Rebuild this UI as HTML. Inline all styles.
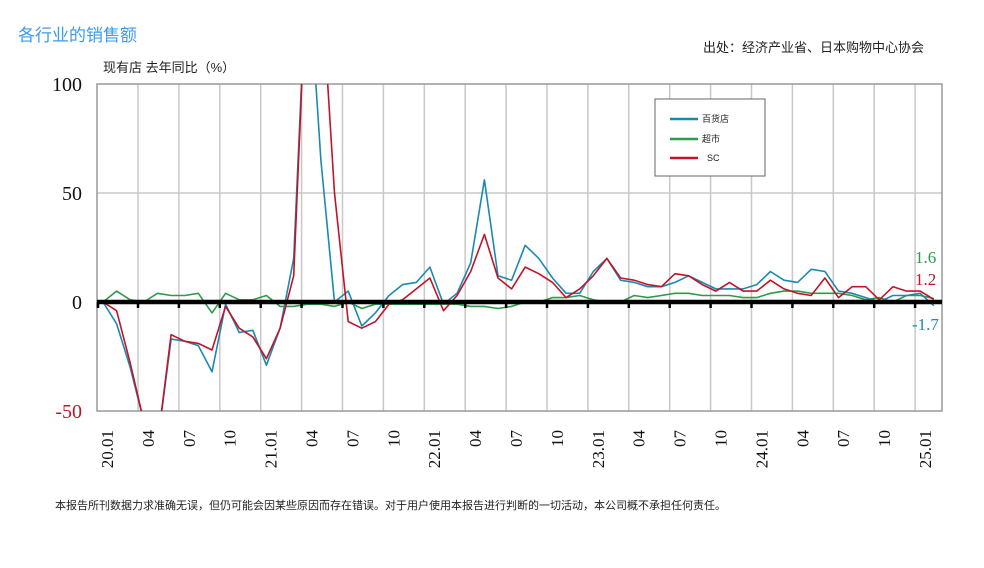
<!DOCTYPE html>
<html><head><meta charset="utf-8"><style>
body{margin:0;background:#fff;width:984px;height:568px;overflow:hidden;position:relative;font-family:"Liberation Sans","Noto Sans CJK SC",sans-serif}
.t{position:absolute;white-space:nowrap}
</style></head><body>
<div class="t" style="left:18px;top:21px;font-size:17px;color:#3a9af0">各行业的销售额</div>
<div class="t" style="left:703px;top:37px;font-size:13px;color:#222">出处：经济产业省、日本购物中心协会</div>
<div class="t" style="left:103px;top:57px;font-size:13px;color:#222">现有店 去年同比（%）</div>
<div class="t" style="left:55px;top:497px;font-size:11px;color:#222">本报告所刊数据力求准确无误，但仍可能会因某些原因而存在错误。对于用户使用本报告进行判断的一切活动，本公司概不承担任何责任。</div>
<svg id="s" width="984" height="568" style="position:absolute;left:0;top:0" font-family="Liberation Serif,serif">
<defs><clipPath id="c"><rect x="97" y="84" width="845" height="327"/></clipPath></defs>
<g id="grid" stroke="#c8c8c8" stroke-width="1.5"></g>
<line x1="97" y1="193" x2="942" y2="193" stroke="#c8c8c8" stroke-width="1.5"/>
<rect x="97" y="84" width="845" height="327" fill="none" stroke="#999" stroke-width="1.5"/>
<g id="lines" clip-path="url(#c)" fill="none" stroke-width="1.6" stroke-linejoin="round"></g>
<line x1="97" y1="302" x2="942" y2="302" stroke="#000" stroke-width="4.5"/>
<g id="ticks" stroke="#000" stroke-width="2.5"></g>
<g font-size="20" text-anchor="end" fill="#111">
<text x="82" y="91">100</text><text x="82" y="200">50</text><text x="82" y="309">0</text><text x="82" y="418" fill="#c0142a">-50</text>
</g>
<g id="xl" font-size="17" fill="#111"></g>
<text x="915" y="263" font-size="17" fill="#2e9a4a">1.6</text>
<text x="915" y="285" font-size="17" fill="#c0142a">1.2</text>
<text x="912" y="330" font-size="17" fill="#1a8ab0">-1.7</text>
<rect x="655" y="99" width="110" height="77" fill="#fff" stroke="#666" stroke-width="1"/>
<g stroke-width="2.5"><line x1="670" y1="119" x2="698" y2="119" stroke="#1a8ab0"/><line x1="670" y1="139" x2="698" y2="139" stroke="#2e9a4a"/><line x1="670" y1="158" x2="698" y2="158" stroke="#c0142a"/></g>
<g font-size="9" font-family="Liberation Sans,Noto Sans CJK SC,sans-serif" fill="#222"><text x="702" y="122">百货店</text><text x="702" y="142">超市</text><text x="707" y="161">SC</text></g>
</svg>
<script>
var ns="http://www.w3.org/2000/svg",s=document.getElementById('s');
function el(p,t,a){var e=document.createElementNS(ns,t);for(var k in a)e.setAttribute(k,a[k]);document.getElementById(p).appendChild(e);return e;}
for(var k=0;k<20;k++){var x=138+40.9*k;el('grid','line',{x1:x,y1:84,x2:x,y2:411});el('ticks','line',{x1:x,y1:302,x2:x,y2:308});}
el('ticks','line',{x1:98,y1:302,x2:98,y2:308});
var labs=["20.01","04","07","10","21.01","04","07","10","22.01","04","07","10","23.01","04","07","10","24.01","04","07","10","25.01"];
for(var i=0;i<labs.length;i++){var x=113+40.9*i;var t=el('xl','text',{transform:"translate("+x+",430) rotate(-90)","text-anchor":"end"});t.textContent=labs[i];}
var B=[0,-10,-30,-55,-65,-17,-18,-20,-32,-1,-14,-13,-29,-12,20,160,65,0,5,-11,-5,3,8,9,16,-1,4,18,56,12,10,26,20,11,4,4,14,20,10,9,7,7,9,12,9,6,6,6,8,14,10,9,15,14,5,4,2,0,3,3,4,-1.7];
var R=[0,-4,-28,-55,-65,-15,-18,-19,-22,-2,-12,-16,-26,-12,12,160,150,50,-9,-12,-9,-1,1,6,11,-4,3,14,31,11,6,16,13,9,2,6,12,20,11,10,8,7,13,12,8,5,9,5,5,10,6,4,3,11,2,7,7,1,7,5,5,1.2];
var G=[0,5,1,0,4,3,3,4,-5,4,1,1,3,-2,-2,-1,-1,-2,0,-3,-1,-1,-1,-1,-1,-1,-1,-2,-2,-3,-2,0,0,2,2,3,1,0,0,3,2,3,4,4,3,3,3,2,2,4,5,5,4,4,4,3,1,2,0,3,3,1.6];
function pl(d,c){var p=d.map(function(v,i){return (103+13.62*i).toFixed(1)+","+(302-2.18*v).toFixed(1)}).join(" ");el('lines','polyline',{points:p,stroke:c});}
pl(G,"#2e9a4a");pl(B,"#1a8ab0");pl(R,"#c0142a");
</script>
</body></html>
